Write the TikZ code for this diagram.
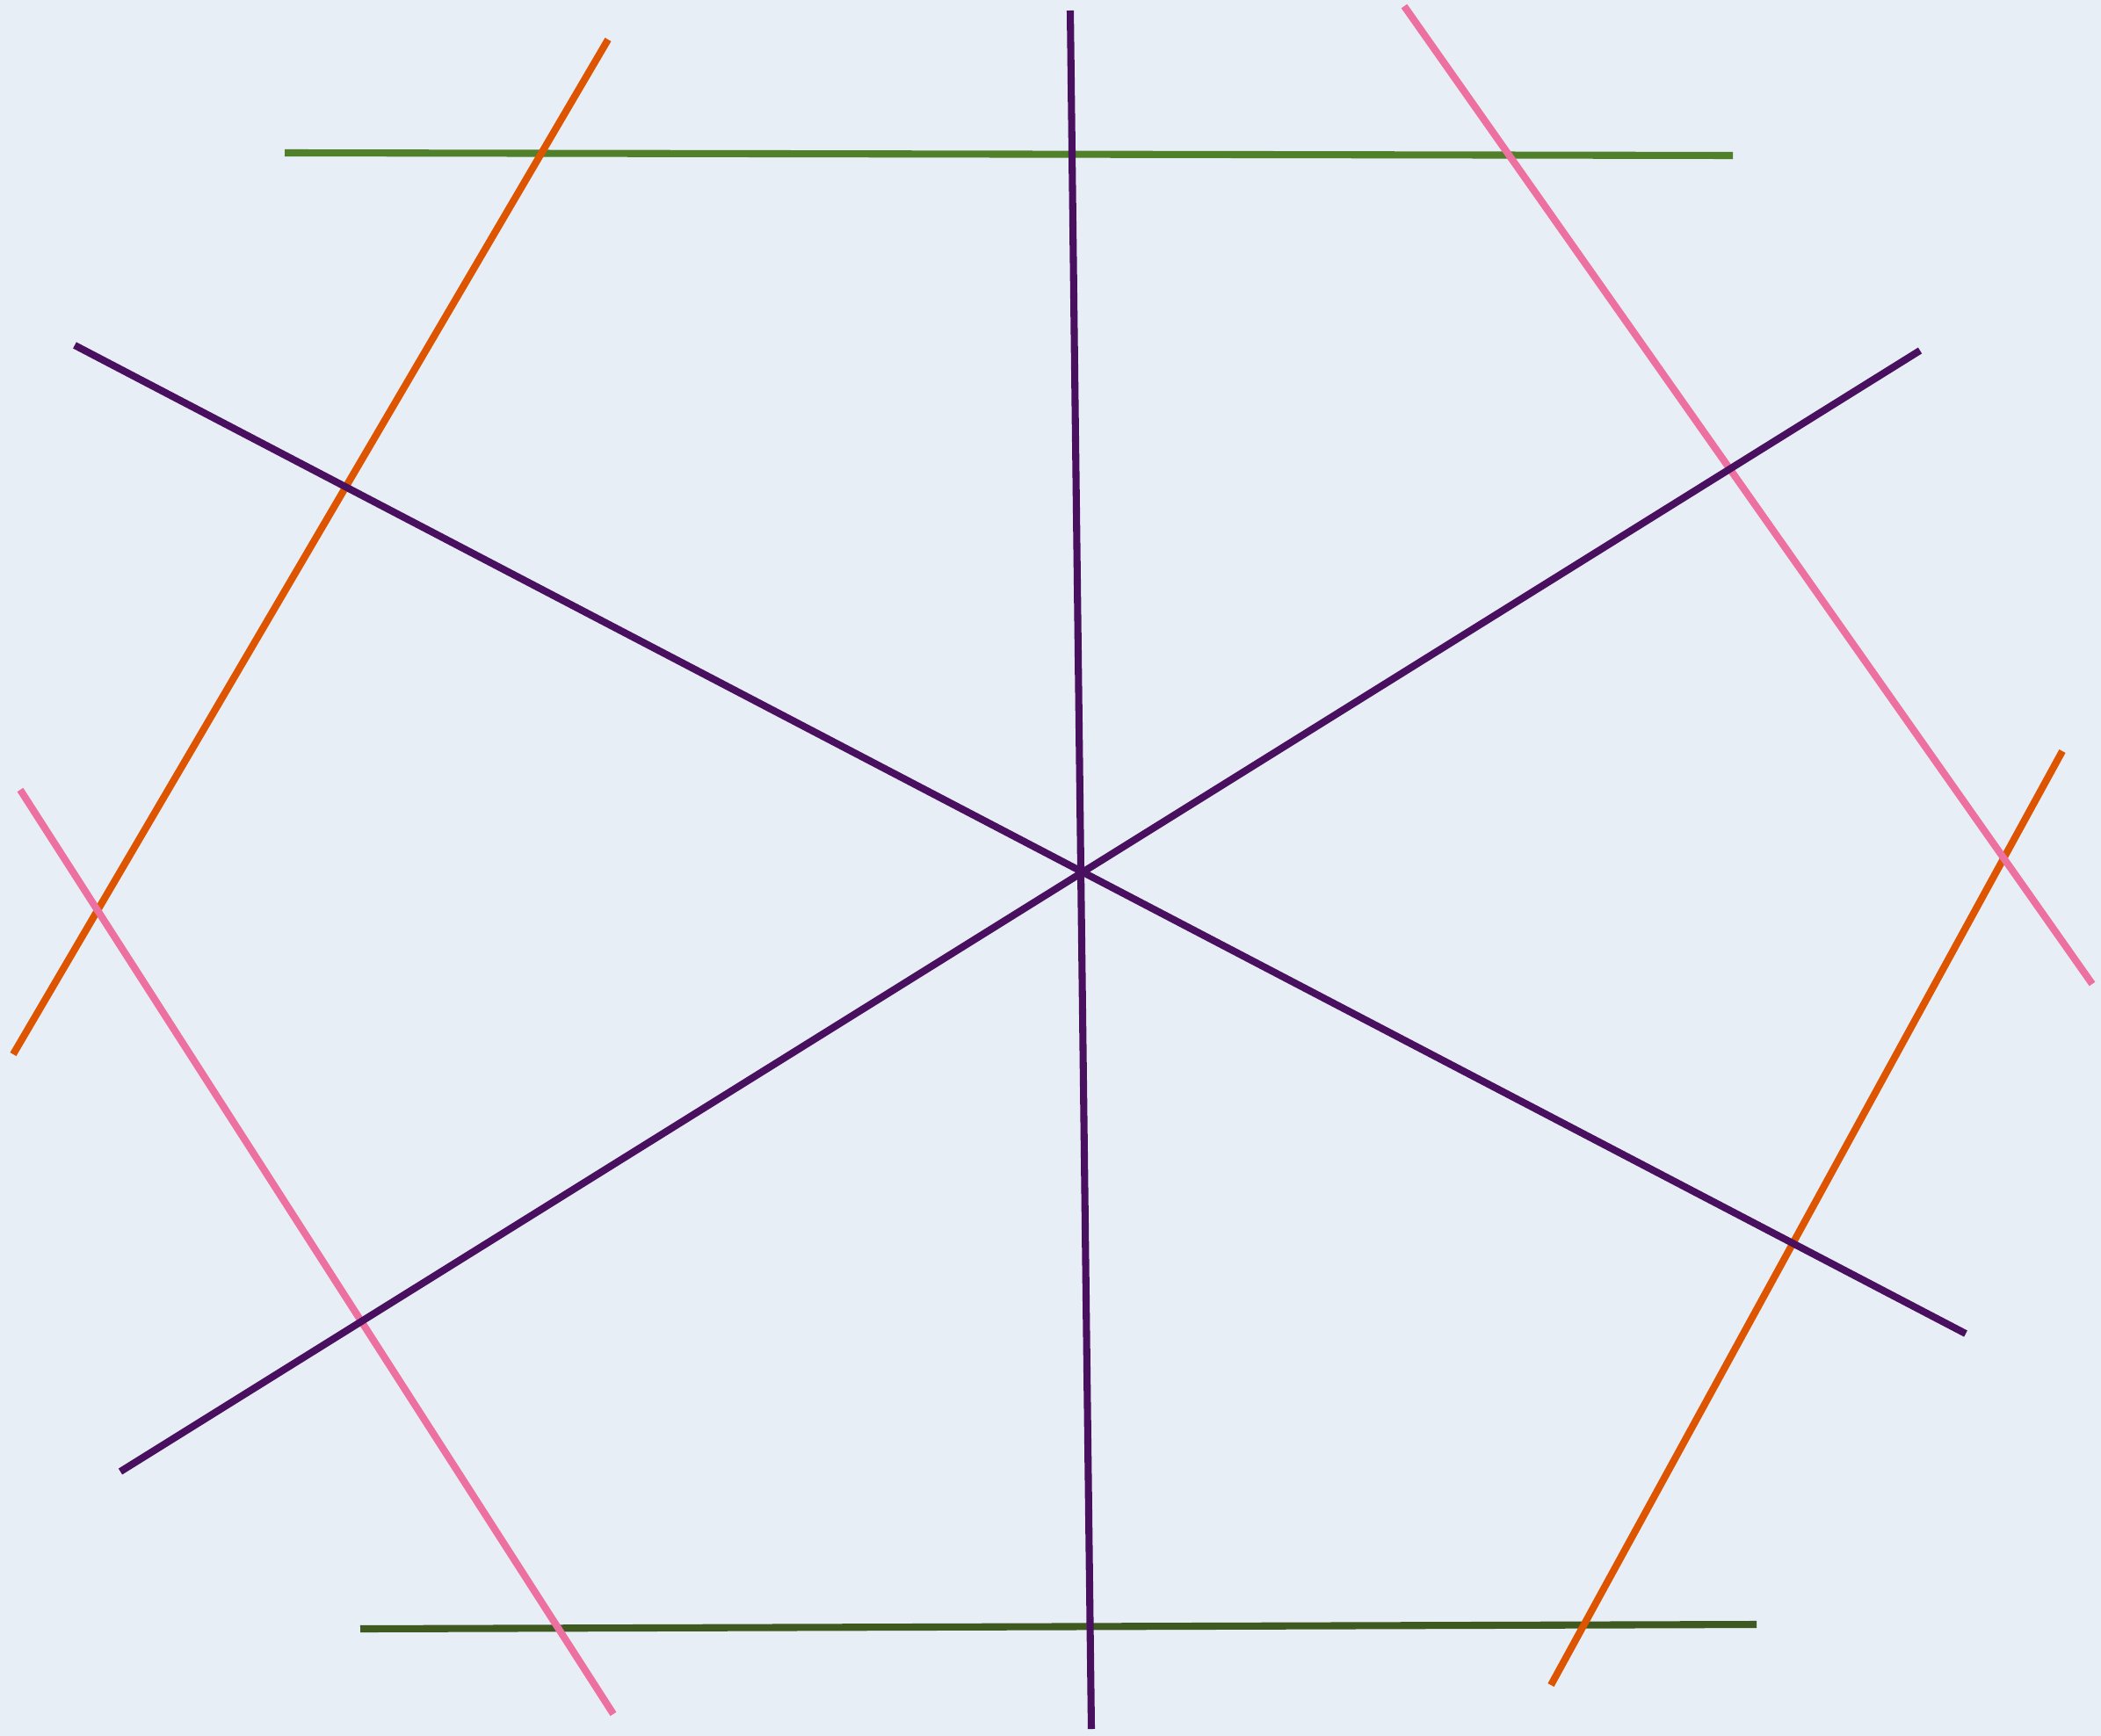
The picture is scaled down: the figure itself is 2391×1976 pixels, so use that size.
\documentclass[tikz,border=0pt]{standalone}
\usepackage{xcolor}
\usepackage{tikz}
\definecolor{mybg}{RGB}{232,238,246}
\definecolor{mypurple}{RGB}{74,16,96}
\definecolor{myorange}{RGB}{221,85,0}
\definecolor{mypink}{RGB}{236,112,160}
\definecolor{mygreen}{RGB}{80,128,42}
\definecolor{mydarkgreen}{RGB}{62,90,32}

\begin{document}
\begin{tikzpicture}[
    x=0.01cm, y=-0.01cm,
    seg/.style={line width=2.3pt, draw=#1},
]
    % Background
    \fill[mybg] (0,0) rectangle (2391,1976);
    \useasboundingbox (0,0) rectangle (2391,1976);

    % End points
    \coordinate (gt1) at (324,174);
    \coordinate (gt2) at (1972,177);
    \coordinate (gb1) at (410,1854);
    \coordinate (gb2) at (1999,1849);
    \coordinate (pv1) at (1218,12);
    \coordinate (pv2) at (1242,1968);
    \coordinate (pd1) at (85,393);
    \coordinate (pd2) at (2237,1518);
    \coordinate (pe1) at (2185,399);
    \coordinate (pe2) at (137,1675);
    \coordinate (ol1) at (692,45);
    \coordinate (ol2) at (15,1200);
    \coordinate (or1) at (2347,855);
    \coordinate (or2) at (1765,1918);
    \coordinate (kl1) at (23,899);
    \coordinate (kl2) at (698,1951);
    \coordinate (kr1) at (1598,7);
    \coordinate (kr2) at (2381,1120);

    % Horizontal lines
    \draw[seg={mygreen}] (gt1) -- (gt2);
    \draw[seg={mydarkgreen}] (gb1) -- (gb2);

    % Orange lines
    \draw[seg={myorange}] (ol1) -- (ol2);
    \draw[seg={myorange}] (or1) -- (or2);

    % Pink lines
    \draw[seg={mypink}] (kl1) -- (kl2);
    \draw[seg={mypink}] (kr1) -- (kr2);

    % Purple lines through the centre
    \draw[seg={mypurple}] (pv1) -- (pv2);
    \draw[seg={mypurple}] (pd1) -- (pd2);
    \draw[seg={mypurple}] (pe1) -- (pe2);
\end{tikzpicture}
\end{document}
